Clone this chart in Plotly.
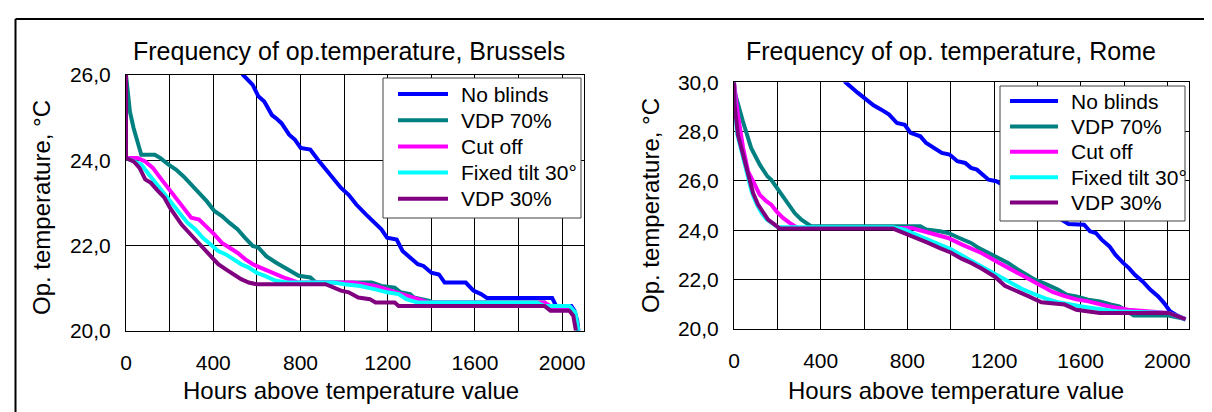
import plotly.graph_objects as go

W, H = 1212, 412
FONT = "Liberation Sans, Arial, sans-serif"

series_names = ["No blinds", "VDP 70%", "Cut off", "Fixed tilt 30°", "VDP 30%"]
series_colors = ["#0000FF", "#008080", "#FF00FF", "#00FFFF", "#800080"]

# ---------------- Brussels ----------------
bru_no_blinds_h = [515, 537, 581, 607, 634, 669, 687, 713, 748, 775, 801, 845, 880, 915, 951, 986, 1021, 1056, 1100, 1144,
                   1171, 1197, 1241, 1268, 1303, 1338, 1364, 1400, 1435, 1461, 1558, 1593, 1628, 1655, 1954, 1972, 2042,
                   2056, 2069, 2074]
bru_no_blinds_t = [26.2, 26.0, 25.77, 25.5, 25.38, 25.06, 24.99, 24.87, 24.6, 24.48, 24.29, 24.25, 24.01, 23.8, 23.58, 23.35,
                   23.19, 22.96, 22.73, 22.5, 22.38, 22.18, 22.14, 21.87, 21.71, 21.56, 21.52, 21.36, 21.32, 21.13, 21.13,
                   20.94, 20.86, 20.77, 20.77, 20.58, 20.58, 20.47, 20.23, 20.0]

bru_vdp70_h = [0, 18, 35, 62, 70, 132, 158, 194, 229, 264, 299, 335, 370, 405, 440, 475, 511, 546, 581, 607,
               643, 687, 739, 792, 845, 871, 1127, 1171, 1232, 1259, 1303, 1320, 1391, 1408, 1919, 1937, 2033, 2060, 2074]
bru_vdp70_t = [26.0, 25.14, 24.75, 24.2, 24.13, 24.13, 24.05, 23.9, 23.78, 23.62, 23.43, 23.23, 23.04, 22.81, 22.69, 22.53,
               22.38, 22.18, 21.99, 21.95, 21.75, 21.6, 21.44, 21.29, 21.25, 21.13, 21.13, 21.05, 21.01, 20.9, 20.86,
               20.78, 20.7, 20.66, 20.66, 20.55, 20.55, 20.39, 20.0]

bru_cutoff_h = [0, 53, 88, 123, 158, 194, 229, 264, 299, 335, 370, 405, 440, 475, 511, 546, 581, 616, 651, 687,
                722, 792, 1039, 1092, 1144, 1215, 1268, 1338, 1391, 1919, 1954, 2039, 2060, 2071]
bru_cutoff_t = [24.05, 24.05, 23.97, 23.82, 23.58, 23.35, 23.12, 22.88, 22.65, 22.61, 22.45, 22.26, 22.06, 21.95, 21.83,
                21.68, 21.56, 21.48, 21.4, 21.32, 21.25, 21.13, 21.13, 21.09, 21.05, 20.94, 20.86, 20.74, 20.66, 20.66,
                20.55, 20.55, 20.39, 20.04]

bru_fixed_h = [0, 70, 106, 141, 176, 211, 246, 282, 317, 352, 387, 423, 458, 493, 528, 563, 599, 634, 687, 739,
               951, 1003, 1074, 1144, 1197, 1250, 1285, 1338, 1884, 1919, 2033, 2060, 2074]
bru_fixed_t = [24.05, 23.9, 23.66, 23.43, 23.2, 22.96, 22.73, 22.53, 22.38, 22.18, 22.03, 21.87, 21.79, 21.68, 21.56,
               21.48, 21.36, 21.29, 21.17, 21.13, 21.13, 21.09, 21.05, 20.97, 20.9, 20.86, 20.74, 20.66, 20.66, 20.58,
               20.58, 20.43, 20.0]

bru_vdp30_h = [0, 0, 35, 62, 88, 114, 141, 176, 202, 229, 255, 282, 317, 352, 387, 423, 458, 493, 528, 563,
               599, 915, 951, 986, 1021, 1065, 1118, 1144, 1232, 1250, 1919, 1946, 2033, 2051, 2063]
bru_vdp30_t = [26.0, 24.05, 23.97, 23.82, 23.55, 23.47, 23.31, 23.12, 22.88, 22.69, 22.49, 22.34, 22.14, 21.95, 21.75,
               21.56, 21.44, 21.32, 21.21, 21.13, 21.09, 21.09, 21.01, 20.94, 20.9, 20.78, 20.74, 20.66, 20.66, 20.58,
               20.58, 20.47, 20.47, 20.35, 20.0]

# ---------------- Rome ----------------
rome_no_blinds_h = [500, 515, 572, 608, 644, 680, 716, 752, 788, 815, 860, 887, 923, 959, 995, 1031, 1067, 1094, 1121,
                    1148, 1175, 1211, 1300, 1400, 1500, 1544, 1616, 1643, 1670, 1697, 1733, 1760, 1796, 1823, 1850,
                    1886, 1922, 1958, 1985, 2012, 2039, 2066, 2084]
rome_no_blinds_t = [30.2, 30.0, 29.57, 29.3, 29.07, 28.89, 28.69, 28.35, 28.28, 27.95, 27.81, 27.54, 27.34, 27.14, 27.07,
                    26.8, 26.73, 26.53, 26.46, 26.26, 26.05, 25.99, 25.55, 25.05, 24.5, 24.26, 24.23, 23.96, 23.89,
                    23.62, 23.35, 23.01, 22.68, 22.47, 22.2, 21.93, 21.59, 21.32, 21.05, 20.72, 20.58, 20.45, 20.38]

rome_vdp70_h = [0, 2, 41, 79, 119, 154, 172, 203, 242, 280, 311, 342, 357, 860, 887, 950, 988, 1040, 1094, 1130,
                1188, 1220, 1265, 1310, 1355, 1389, 1445, 1497, 1535, 1580, 1634, 1688, 1742, 1778, 1814, 1845, 2005,
                2051, 2084]
rome_vdp70_t = [30.0, 29.64, 28.42, 27.34, 26.66, 26.19, 26.05, 25.65, 25.18, 24.7, 24.43, 24.23, 24.16, 24.16, 24.03,
                23.96, 23.89, 23.69, 23.49, 23.28, 23.01, 22.88, 22.68, 22.41, 22.2, 22.0, 21.8, 21.59, 21.39, 21.32,
                21.19, 21.12, 20.99, 20.92, 20.72, 20.55, 20.55, 20.45, 20.4]

rome_cutoff_h = [0, 18, 42, 65, 88, 119, 149, 172, 196, 226, 257, 280, 296, 820, 860, 920, 988, 1058, 1142, 1220,
                 1296, 1350, 1419, 1470, 1527, 1580, 1635, 1680, 1727, 1780, 1820, 2005, 2051, 2084]
rome_cutoff_t = [30.0, 28.69, 27.34, 26.39, 25.99, 25.44, 25.18, 25.04, 24.77, 24.5, 24.3, 24.16, 24.09, 24.09, 23.99,
                 23.85, 23.69, 23.4, 23.08, 22.7, 22.34, 22.05, 21.73, 21.5, 21.33, 21.2, 21.12, 21.02, 20.92, 20.84,
                 20.78, 20.65, 20.5, 20.4]

rome_fixed_h = [0, 3, 15, 35, 55, 72, 82, 105, 128, 150, 180, 203, 734, 788, 842, 896, 950, 1004, 1058, 1112,
                1166, 1220, 1274, 1328, 1382, 1436, 1490, 1544, 1598, 1652, 1706, 1760, 2005, 2051, 2084]
rome_fixed_t = [30.0, 29.0, 27.9, 27.2, 26.6, 25.95, 25.55, 25.05, 24.7, 24.45, 24.25, 24.12, 24.12, 24.03, 23.82,
                23.62, 23.42, 23.22, 22.95, 22.68, 22.41, 22.14, 21.86, 21.63, 21.43, 21.24, 21.1, 20.99, 20.92,
                20.85, 20.78, 20.72, 20.65, 20.5, 20.4]

rome_vdp30_h = [0, 3, 18, 42, 65, 80, 88, 111, 134, 157, 188, 211, 734, 788, 842, 896, 950, 1000, 1050, 1094,
                1142, 1204, 1250, 1312, 1358, 1419, 1472, 1526, 1580, 1652, 1688, 2005, 2051, 2084]
rome_vdp30_t = [30.0, 29.09, 27.88, 27.07, 26.39, 25.85, 25.51, 25.04, 24.7, 24.43, 24.23, 24.07, 24.07, 23.89, 23.69,
                23.49, 23.28, 23.1, 22.85, 22.68, 22.45, 22.12, 21.75, 21.53, 21.33, 21.08, 21.05, 20.99, 20.78, 20.72,
                20.65, 20.65, 20.5, 20.4]

x_tick_vals = [0, 400, 800, 1200, 1600, 2000]
x_tick_labels = ["0", "400", "800", "1200", "1600", "2000"]
bru_y_tick_vals = [20, 22, 24, 26]
bru_y_tick_labels = ["20,0", "22,0", "24,0", "26,0"]
rome_y_tick_vals = [20, 22, 24, 26, 28, 30]
rome_y_tick_labels = ["20,0", "22,0", "24,0", "26,0", "28,0", "30,0"]

titles = ["Frequency of op.temperature, Brussels", "Frequency of op. temperature, Rome"]
x_title = "Hours above temperature value"
y_title = "Op. temperature, °C"

bru_series = [(bru_no_blinds_h, bru_no_blinds_t), (bru_vdp70_h, bru_vdp70_t), (bru_cutoff_h, bru_cutoff_t),
              (bru_fixed_h, bru_fixed_t), (bru_vdp30_h, bru_vdp30_t)]
rome_series = [(rome_no_blinds_h, rome_no_blinds_t), (rome_vdp70_h, rome_vdp70_t), (rome_cutoff_h, rome_cutoff_t),
               (rome_fixed_h, rome_fixed_t), (rome_vdp30_h, rome_vdp30_t)]

LW = 4


def px(x):
    return x / W


def py(y):
    return 1 - y / H


fig = go.Figure()
for (h, t), name, col in zip(bru_series, series_names, series_colors):
    fig.add_trace(go.Scatter(x=h, y=t, mode="lines", name=name, line=dict(color=col, width=LW),
                             xaxis="x", yaxis="y", showlegend=False, hoverinfo="skip"))
for (h, t), name, col in zip(rome_series, series_names, series_colors):
    fig.add_trace(go.Scatter(x=h, y=t, mode="lines", name=name, line=dict(color=col, width=LW),
                             xaxis="x2", yaxis="y2", showlegend=False, hoverinfo="skip"))

# plot-area pixel boxes: (left, right, top, bottom)
boxes = [(118, 576, 67, 322.7), (726, 1181, 74.3, 321)]

common_x = dict(range=[0, 2100], tickmode="array", tickvals=x_tick_vals, ticktext=x_tick_labels,
                showgrid=True, gridcolor="black", gridwidth=1,
                minor=dict(tickmode="linear", tick0=0, dtick=200, showgrid=True, gridcolor="black", gridwidth=1),
                showline=True, linecolor="black", linewidth=1, mirror=True, ticks="", zeroline=False,
                tickfont=dict(size=21, color="black", family=FONT), ticklabelstandoff=13, fixedrange=True)
common_y = dict(tickmode="array", showgrid=True, gridcolor="black", gridwidth=1,
                showline=True, linecolor="black", linewidth=1, mirror=True, ticks="", zeroline=False,
                tickfont=dict(size=21, color="black", family=FONT), ticklabelstandoff=10, fixedrange=True)

b0, b1 = boxes
fig.update_layout(
    xaxis=dict(common_x, domain=[px(b0[0]), px(b0[1])], anchor="y"),
    yaxis=dict(common_y, domain=[py(b0[3]), py(b0[2])], anchor="x", range=[20, 26],
               tickvals=bru_y_tick_vals, ticktext=bru_y_tick_labels),
    xaxis2=dict(common_x, domain=[px(b1[0]), px(b1[1])], anchor="y2"),
    yaxis2=dict(common_y, domain=[py(b1[3]), py(b1[2])], anchor="x2", range=[20, 30],
                tickvals=rome_y_tick_vals, ticktext=rome_y_tick_labels),
)

annotations = []
shapes = []

# titles and axis titles (pixel centres)
title_pos = [(341, 43), (943, 43)]
xt_pos = [(343, 382), (948, 382)]
yt_pos = [(33, 200), (642, 198)]
for i in range(2):
    annotations.append(dict(text=titles[i], x=px(title_pos[i][0]), y=py(title_pos[i][1]), xref="paper", yref="paper",
                            xanchor="center", yanchor="middle", showarrow=False,
                            font=dict(size=25, color="black", family=FONT)))
    annotations.append(dict(text=x_title, x=px(xt_pos[i][0]), y=py(xt_pos[i][1]), xref="paper", yref="paper",
                            xanchor="center", yanchor="middle", showarrow=False,
                            font=dict(size=24, color="black", family=FONT)))
    annotations.append(dict(text=y_title, x=px(yt_pos[i][0]), y=py(yt_pos[i][1]), xref="paper", yref="paper",
                            xanchor="center", yanchor="middle", showarrow=False, textangle=-90,
                            font=dict(size=24, color="black", family=FONT)))

# manual legends: box (l, r, t, b), first row y, row step, sample x0, x1, text x
legends = [(375, 573, 70, 210, 86, 26.2, 390, 440, 451),
           (992, 1177, 78, 213, 93, 25.4, 1002, 1050, 1061)]
for (l, r, t, b, y0, dy, s0, s1, tx) in legends:
    shapes.append(dict(type="rect", xref="paper", yref="paper", x0=px(l), x1=px(r), y0=py(b), y1=py(t),
                       fillcolor="white", line=dict(color="#404040", width=1), layer="above"))
    for k, (name, col) in enumerate(zip(series_names, series_colors)):
        yy = y0 + k * dy
        shapes.append(dict(type="line", xref="paper", yref="paper", x0=px(s0), x1=px(s1), y0=py(yy), y1=py(yy),
                           line=dict(color=col, width=LW), layer="above"))
        annotations.append(dict(text=name, x=px(tx), y=py(yy), xref="paper", yref="paper", xanchor="left",
                                yanchor="middle", showarrow=False, font=dict(size=21, color="black", family=FONT)))

# outer frame (left and top edges visible in the picture)
shapes.append(dict(type="line", xref="paper", yref="paper", x0=px(7.5), x1=px(7.5), y0=0, y1=py(11),
                   line=dict(color="black", width=2)))
shapes.append(dict(type="line", xref="paper", yref="paper", x0=px(7.5), x1=1, y0=py(11), y1=py(11),
                   line=dict(color="black", width=2)))

fig.update_layout(
    width=W, height=H, margin=dict(l=0, r=0, t=0, b=0, autoexpand=False),
    paper_bgcolor="white", plot_bgcolor="white", showlegend=False,
    font=dict(family=FONT, color="black"),
    annotations=annotations, shapes=shapes,
)

fig.write_html("out.html")
